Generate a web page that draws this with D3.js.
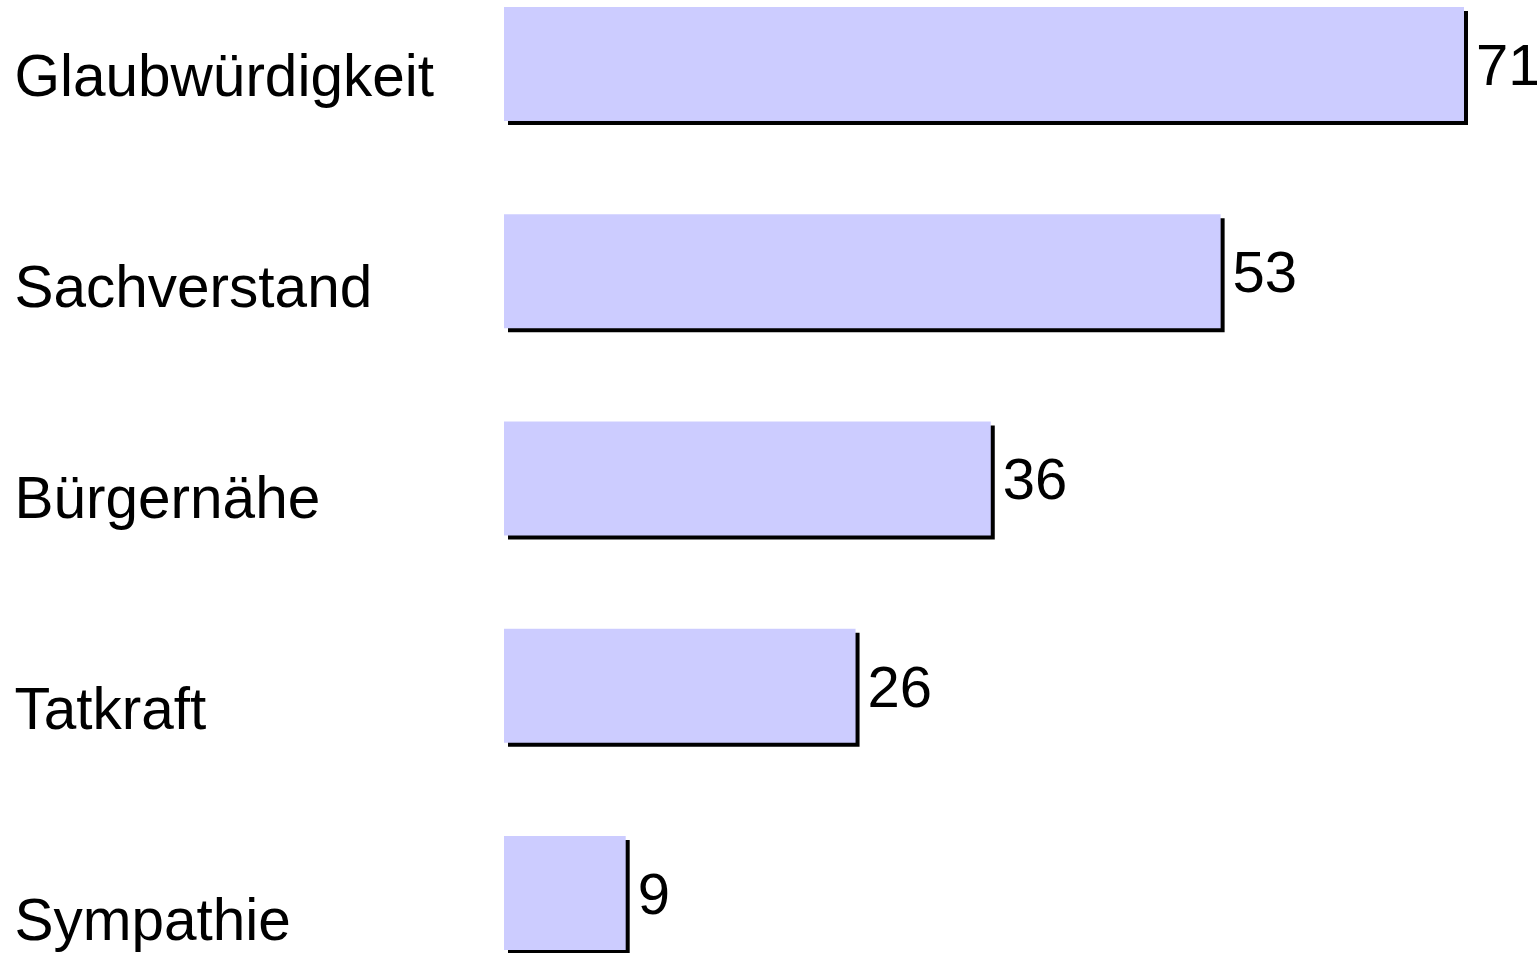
<!DOCTYPE html>
<html>
<head>
<meta charset="utf-8">
<script src="https://cdn.jsdelivr.net/npm/d3@7"></script>
<style>
html,body{margin:0;padding:0;background:#fff;}
svg{display:block;}
text{font-family:Arial,"Liberation Sans",sans-serif;fill:#000;}
</style>
</head>
<body>
<svg id="chart" width="1537" height="953"></svg>
<script>
const categories = ["Glaubwürdigkeit","Sachverstand","Bürgernähe","Tatkraft","Sympathie"];
const values = [71, 53, 36, 26, 9];

const svg = d3.select("#chart");
const x = d3.scaleLinear().domain([0, 71]).range([504, 1464]);
const y = d3.scaleBand().domain(categories).range([7, 950]).paddingInner(0.45).paddingOuter(0);
const yLabel = d3.scalePoint().domain(categories).range([96, 940]);

const data = categories.map((c, i) => ({cat: c, val: values[i]}));
const off = 4;

// shadows
svg.selectAll("rect.shadow").data(data).enter().append("rect")
  .attr("class","shadow")
  .attr("x", x(0) + off)
  .attr("y", d => y(d.cat) + off)
  .attr("width", d => x(d.val) - x(0))
  .attr("height", y.bandwidth())
  .attr("fill", "#000");

// bars
svg.selectAll("rect.bar").data(data).enter().append("rect")
  .attr("class","bar")
  .attr("x", x(0))
  .attr("y", d => y(d.cat))
  .attr("width", d => x(d.val) - x(0))
  .attr("height", y.bandwidth())
  .attr("fill", "#CCCCFF");

// category labels
svg.selectAll("text.cat").data(data).enter().append("text")
  .attr("class","cat")
  .attr("x", 14.5)
  .attr("y", d => yLabel(d.cat))
  .attr("font-size", 58.5)
  .text(d => d.cat);

// value labels
svg.selectAll("text.val").data(data).enter().append("text")
  .attr("class","val")
  .attr("x", d => x(d.val) + 12)
  .attr("y", d => y(d.cat) + y.bandwidth()/2)
  .attr("dy", "0.36em")
  .attr("font-size", 58)
  .text(d => d.val);
</script>
</body>
</html>
